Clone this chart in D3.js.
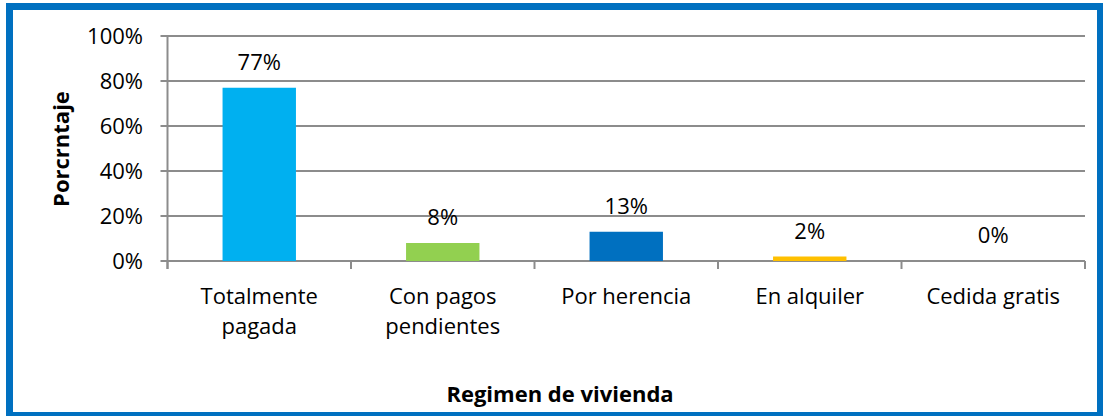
<!DOCTYPE html>
<html>
<head>
<meta charset="utf-8">
<script src="https://cdn.jsdelivr.net/npm/d3@7"></script>
<style>
  body { margin: 0; background: #fff; }
  text { font-family: "Open Sans", sans-serif; fill: #000; }
</style>
</head>
<body>
<script>
// data
let categories = [['Totalmente', 'pagada'], ['Con pagos', 'pendientes'], ['Por herencia'], ['En alquiler'], ['Cedida gratis']];
let values = [0.77, 0.08, 0.13, 0.02, 0];
let colors = ['#00B0F0', '#92D050', '#0070C0', '#FFC000', '#7F7F7F'];
let yTicks = [0, 0.2, 0.4, 0.6, 0.8, 1];

let width = 1103, height = 416;
let plotL = 167.5, plotR = 1085, plotT = 36, plotB = 261;

let svg = d3.select('body').append('svg')
            .attr('width', width)
            .attr('height', height);

// blue frame
svg.append('rect')
  .attr('x', 9.5).attr('y', 6.5)
  .attr('width', 1091).attr('height', 409)
  .attr('fill', '#fff')
  .attr('stroke', '#0070C0')
  .attr('stroke-width', 7);

let x = d3.scaleBand()
          .domain(d3.range(values.length))
          .range([plotL, plotR]);
let y = d3.scaleLinear()
          .domain([0, 1])
          .range([plotB, plotT]);

// gridlines
svg.append('g')
  .selectAll('line')
  .data(yTicks)
  .enter()
  .append('line')
  .attr('x1', plotL - 7)
  .attr('x2', plotR)
  .attr('y1', d => y(d))
  .attr('y2', d => y(d))
  .attr('stroke', '#8c8c8c')
  .attr('stroke-width', 2);

// y tick labels
svg.append('g')
  .selectAll('text')
  .data(yTicks)
  .enter()
  .append('text')
  .attr('x', 143)
  .attr('y', d => y(d))
  .attr('dy', '0.36em')
  .attr('text-anchor', 'end')
  .attr('font-size', 22)
  .text(d3.format('.0%'));

// y axis line
svg.append('line')
  .attr('x1', plotL).attr('x2', plotL)
  .attr('y1', plotT).attr('y2', plotB + 8)
  .attr('stroke', '#8c8c8c')
  .attr('stroke-width', 2);

// category ticks
svg.append('g')
  .selectAll('line')
  .data(d3.range(values.length + 1))
  .enter()
  .append('line')
  .attr('x1', i => plotL + i * x.step())
  .attr('x2', i => plotL + i * x.step())
  .attr('y1', plotB)
  .attr('y2', plotB + 8)
  .attr('stroke', '#8c8c8c')
  .attr('stroke-width', 2);

let barW = x.bandwidth() * 0.4;

svg.append('g')
  .selectAll('rect')
  .data(values)
  .enter()
  .append('rect')
  .attr('x', (d, i) => x(i) + x.bandwidth() / 2 - barW / 2)
  .attr('y', d => y(d))
  .attr('width', barW)
  .attr('height', d => plotB - y(d))
  .attr('fill', (d, i) => colors[i]);

// value labels
svg.append('g')
  .selectAll('text')
  .data(values)
  .enter()
  .append('text')
  .attr('x', (d, i) => x(i) + x.bandwidth() / 2)
  .attr('y', d => y(d) - 18)
  .attr('text-anchor', 'middle')
  .attr('font-size', 22)
  .text(d3.format('.0%'));

// category labels
let catText = svg.append('g')
  .selectAll('text')
  .data(categories)
  .enter()
  .append('text')
  .attr('text-anchor', 'middle')
  .attr('font-size', 22);

catText.selectAll('tspan')
  .data((d, i) => d.map(t => ({t: t, i: i})))
  .enter()
  .append('tspan')
  .attr('x', d => x(d.i) + x.bandwidth() / 2)
  .attr('y', (d, j) => 304 + j * 30)
  .text(d => d.t);

// axis titles
svg.append('text')
  .attr('text-anchor', 'middle')
  .attr('transform', 'translate(69,149)rotate(-90)')
  .attr('font-size', 22)
  .attr('font-weight', 'bold')
  .text('Porcrntaje');

svg.append('text')
  .attr('text-anchor', 'middle')
  .attr('x', 560)
  .attr('y', 402)
  .attr('font-size', 22)
  .attr('font-weight', 'bold')
  .text('Regimen de vivienda');
</script>
</body>
</html>
